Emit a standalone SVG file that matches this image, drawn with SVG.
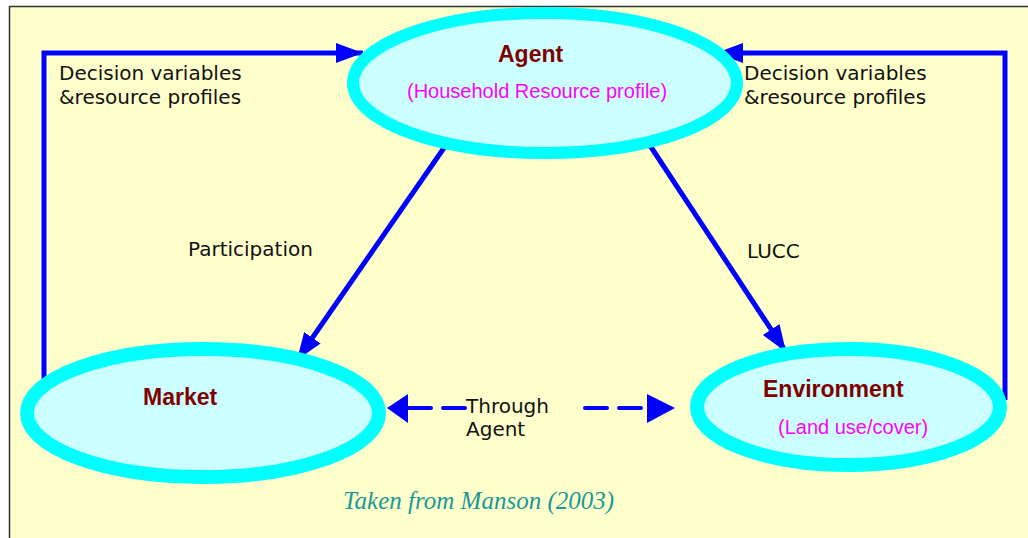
<svg xmlns="http://www.w3.org/2000/svg" width="1028" height="538" viewBox="0 0 1028 538">
<style>
.node{fill:#CCFFFF;stroke:#00FFFF}
.lbl{font-family:"DejaVu Sans",Verdana,sans-serif;font-size:20px;fill:#111}
.title{font-family:"Liberation Sans",Arial,sans-serif;font-weight:bold;font-size:23px;fill:#800000}
.sub{font-family:"Liberation Sans",Arial,sans-serif;font-size:20px;fill:#FF00FF}
.conn{fill:none;stroke:#0000FF;stroke-width:5}
.dash{fill:none;stroke:#0000FF;stroke-width:4;stroke-linecap:round;stroke-dasharray:22 12}
</style>
<defs>
<marker id="ah" markerUnits="userSpaceOnUse" markerWidth="28" markerHeight="22" refX="27" refY="10" orient="auto">
<path d="M0,0 L27,10 L0,20 Z" fill="#0000FF"/>
</marker>
</defs>
<rect x="0" y="0" width="1028" height="538" fill="#FFFFFF"/>
<rect x="9.5" y="6.5" width="1030" height="540" fill="#FFFFCC" stroke="#333333" stroke-width="1.5"/>
<g id="connectors">
<polyline class="conn" points="44,387 44,53 363,53" marker-end="url(#ah)"/>
<polyline class="conn" points="1005,400 1005,53 716,53" marker-end="url(#ah)"/>
<line class="conn" x1="446" y1="145" x2="297" y2="360" marker-end="url(#ah)"/>
<line class="conn" x1="649" y1="144" x2="786" y2="352" marker-end="url(#ah)"/>
<line class="dash" x1="465" y1="408" x2="409" y2="408"/>
<path d="M387,408 L408,394 L408,423 Z" fill="#0000FF"/>
<line class="dash" x1="585" y1="408" x2="643" y2="408"/>
<path d="M675,408 L647,394 L647,423 Z" fill="#0000FF"/>
<text class="lbl" x="59" y="80">Decision variables</text>
<text class="lbl" x="59" y="104">&amp;resource profiles</text>
<text class="lbl" x="744" y="80">Decision variables</text>
<text class="lbl" x="744" y="104">&amp;resource profiles</text>
<text class="lbl" x="188" y="256">Participation</text>
<text class="lbl" x="747" y="258">LUCC</text>
<text class="lbl" x="466" y="413">Through</text>
<text class="lbl" x="466" y="436">Agent</text>
</g>
<g id="agent">
<ellipse class="node" cx="545" cy="83" rx="192" ry="70" stroke-width="12"/>
<text class="title" x="498" y="62">Agent</text>
<text class="sub" x="407" y="98">(Household Resource profile)</text>
</g>
<g id="market">
<ellipse class="node" cx="203" cy="413" rx="176" ry="64" stroke-width="14"/>
<text class="title" x="143" y="405">Market</text>
</g>
<g id="environment">
<ellipse class="node" cx="848.5" cy="407" rx="151.5" ry="58" stroke-width="14"/>
<text class="title" x="763" y="397">Environment</text>
<text class="sub" x="778" y="434">(Land use/cover)</text>
</g>
<text x="343" y="509" font-family="'Liberation Serif','Times New Roman',serif" font-style="italic" font-size="25" fill="#1A9999">Taken from Manson (2003)</text>
</svg>
